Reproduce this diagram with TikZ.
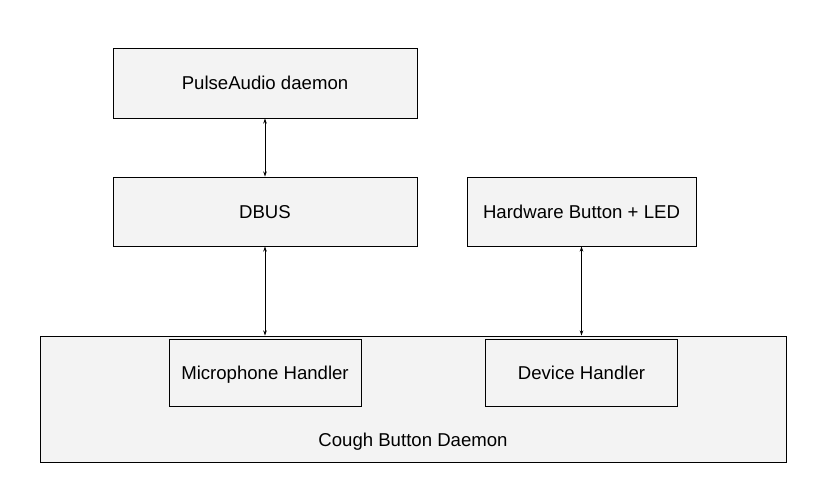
\documentclass[tikz,border=0pt]{standalone}
\usepackage{fontspec}
\setmainfont{Liberation Sans}
\usetikzlibrary{arrows.meta}
\definecolor{boxfill}{HTML}{F3F3F3}
\begin{document}
\begin{tikzpicture}[x=1pt,y=-1pt,
  txt/.style={font=\fontsize{18.6}{21}\selectfont,text height=13.3pt,text depth=0pt},
  blk/.style={draw=black,line width=0.95pt,fill=boxfill,rectangle,inner sep=0pt,txt},
  link/.style={line width=1pt,{Stealth[length=5pt,width=3.5pt]}-{Stealth[length=5pt,width=3.5pt]}}]
\fill[white] (0,0) rectangle (828,501);
\useasboundingbox (0,0) rectangle (828,501);
\node[blk,minimum width=304pt,minimum height=70pt] (pa) at (265,83) {PulseAudio daemon};
\node[blk,minimum width=304pt,minimum height=69pt] (dbus) at (265,211.5) {DBUS};
\node[blk,minimum width=229pt,minimum height=69pt] (hw) at (581.5,211.5) {Hardware Button + LED};
\node[blk,minimum width=746pt,minimum height=126pt] (cbd) at (413,399) {};
\node[txt] (cbdl) at (413,440) {Cough Button Daemon};
\node[blk,minimum width=192pt,minimum height=67pt] (mic) at (265,372.5) {Microphone Handler};
\node[blk,minimum width=192pt,minimum height=67pt] (dev) at (581.5,372.5) {Device Handler};
\draw[link] (pa.south) -- (dbus.north);
\draw[link] (dbus.south) -- (dbus.south |- cbd.north);
\draw[link] (hw.south) -- (hw.south |- cbd.north);
\end{tikzpicture}
\end{document}
